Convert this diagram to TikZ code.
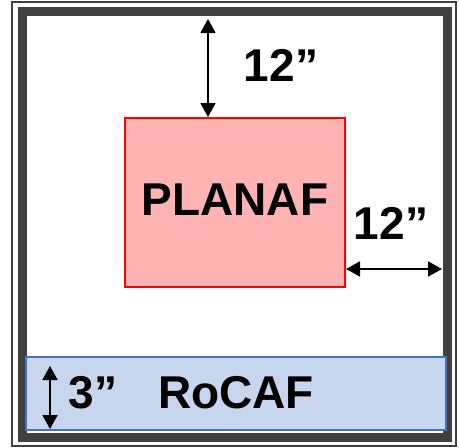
\documentclass[tikz,border=0pt]{standalone}
\usepackage{fontspec}
\setmainfont{Liberation Sans}
\usetikzlibrary{arrows.meta}
\definecolor{framegray}{HTML}{404040}
\definecolor{planfill}{HTML}{FFB3B3}
\definecolor{rocfill}{HTML}{C7D5ED}
\definecolor{rocdraw}{HTML}{4472C4}
\tikzset{
  lbl/.style={font=\fontsize{46}{46}\selectfont\bfseries, inner sep=0pt, text=black},
  dimarrow/.style={line width=1.8pt, {Triangle[width=15pt,length=14pt]}-{Triangle[width=15pt,length=14pt]}},
}
\begin{document}
\begin{tikzpicture}[x=1pt,y=-1pt]
\useasboundingbox (0,0) rectangle (459,448);
\fill[white] (0,0) rectangle (459,448);
\draw[framegray, line width=2pt] (12,2) rectangle (456,446);
\draw[framegray, line width=9pt] (22,11.5) rectangle (447,437.5);
\node[draw=red, fill=planfill, line width=2pt, minimum width=220pt, minimum height=169pt, inner sep=0pt] (plan) at (235,202.5) {};
\node[lbl] (plantxt) at (235,200) {PLANAF};
\node[draw=rocdraw, fill=rocfill, line width=2pt, minimum width=420pt, minimum height=73pt, inner sep=0pt] (roc) at (236,393.5) {};
\node[lbl] (roctxt) at (236,393) {RoCAF};
\node[lbl] (three) at (93,393) {3”};
\coordinate (t3) at (50,366);
\coordinate (b3) at (50,429);
\draw[dimarrow] (t3) -- (b3);
\coordinate (ttop) at (208,19);
\draw[dimarrow] (ttop) -- (ttop |- plan.north);
\node[lbl] (twelvetop) at (281,65) {12”};
\coordinate (rright) at (442,269);
\draw[dimarrow] (plan.east |- rright) -- (rright);
\node[lbl] (twelveright) at (391,223) {12”};
\end{tikzpicture}
\end{document}
